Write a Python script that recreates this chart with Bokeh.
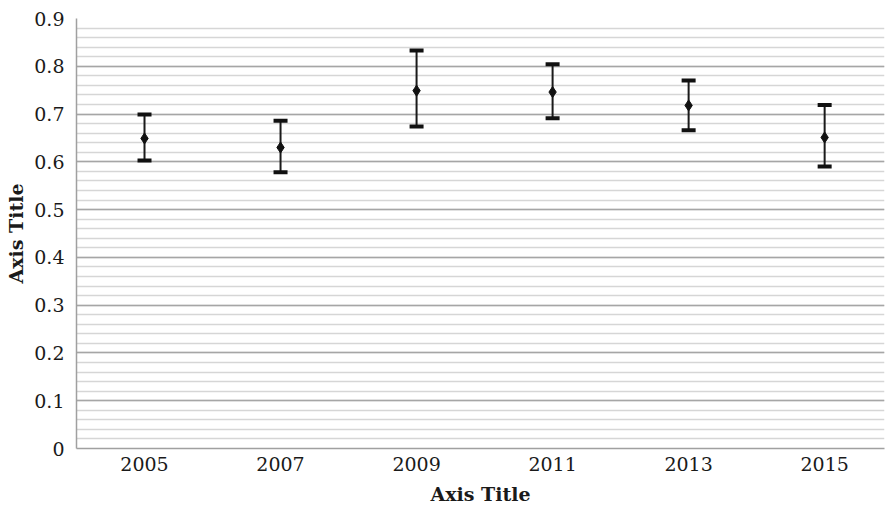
from bokeh.plotting import figure
from bokeh.models import ColumnDataSource, Whisker, TeeHead, FixedTicker, Range1d
from bokeh.embed import file_html
from bokeh.resources import INLINE
import numpy as np

# ---- data ----
years = ["2005", "2007", "2009", "2011", "2013", "2015"]
means = [0.649, 0.630, 0.749, 0.746, 0.718, 0.651]
upper = [0.699, 0.686, 0.833, 0.804, 0.770, 0.719]
lower = [0.603, 0.578, 0.674, 0.691, 0.666, 0.590]
y_ticks = [0, 0.1, 0.2, 0.3, 0.4, 0.5, 0.6, 0.7, 0.8, 0.9]
y_tick_labels = ["0", "0.1", "0.2", "0.3", "0.4", "0.5", "0.6", "0.7", "0.8", "0.9"]
x_title = "Axis Title"
y_title = "Axis Title"

xs = list(range(len(years)))
src = ColumnDataSource(dict(x=xs, year=years, mean=means, upper=upper, lower=lower))

FONT = "DejaVu Serif"

p = figure(frame_width=808, frame_height=430, output_backend="svg", toolbar_location=None,
           x_range=Range1d(-0.5, 5.44), y_range=Range1d(0, 0.9),
           min_border_left=76, min_border_top=18, min_border_right=3, min_border_bottom=55)
p.outline_line_color = None
p.background_fill_color = "white"

# grids
p.xgrid.grid_line_color = None
yt = FixedTicker(ticks=y_ticks, minor_ticks=list(np.round(np.arange(0, 0.9001, 0.02), 2)))
p.yaxis.ticker = yt
p.ygrid.ticker = yt
p.ygrid.grid_line_color = "#a6a6a6"
p.ygrid.grid_line_width = 1.3
p.ygrid.minor_grid_line_color = "#d6d6d6"
p.ygrid.minor_grid_line_width = 1.3

# axes
p.yaxis.major_label_overrides = {t: l for t, l in zip(y_ticks, y_tick_labels)}
p.xaxis.ticker = FixedTicker(ticks=xs)
p.xaxis.major_label_overrides = {i: y for i, y in zip(xs, years)}
for ax in (p.xaxis, p.yaxis):
    ax.axis_line_color = "#a0a0a0"
    ax.axis_line_width = 1.5
    ax.major_tick_line_color = None
    ax.minor_tick_line_color = None
    ax.major_label_text_font = FONT
    ax.major_label_text_font_size = "19px"
    ax.major_label_text_color = "#1a1a1a"
    ax.axis_label_text_font = FONT
    ax.axis_label_text_font_style = "bold"
    ax.axis_label_text_font_size = "19px"
    ax.axis_label_text_color = "#1a1a1a"
p.yaxis.major_label_standoff = 6
p.xaxis.major_label_standoff = 2
p.yaxis.axis_label = y_title
p.xaxis.axis_label = x_title
p.yaxis.axis_label_standoff = 4
p.xaxis.axis_label_standoff = 9

# error bars
w = Whisker(source=src, base="x", upper="upper", lower="lower",
            line_color="#1a1a1a", line_width=2,
            upper_head=TeeHead(size=14, line_width=4, line_color="#111111"),
            lower_head=TeeHead(size=14, line_width=4, line_color="#111111"))
p.add_layout(w)
p.scatter("x", "mean", source=src, marker="diamond", size=11,
          fill_color="#111111", line_color="#111111")

open("out.html", "w").write(file_html(p, INLINE))
